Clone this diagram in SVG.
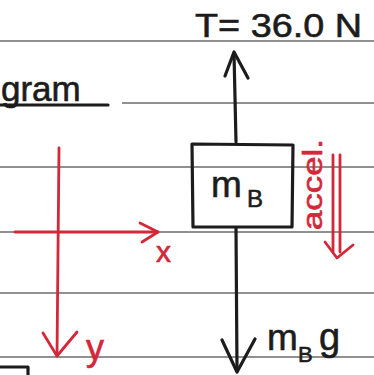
<svg xmlns="http://www.w3.org/2000/svg" width="374" height="375" viewBox="0 0 374 375">
  <style>
    .rule { stroke: #6b6b6b; stroke-width: 1.3; fill: none; }
    .ink { stroke: #1c1c1c; stroke-width: 3.2; fill: none; stroke-linecap: round; stroke-linejoin: round; }
    .red { stroke: #d3283a; stroke-width: 2.8; fill: none; stroke-linecap: round; stroke-linejoin: round; }
    .tb { font-family: "Liberation Sans", Arial, sans-serif; fill: #1c1c1c; stroke: #1c1c1c; stroke-width: 0.6; }
    .tr { font-family: "Liberation Sans", Arial, sans-serif; fill: #d3283a; stroke: #d3283a; stroke-width: 0.6; }
  </style>
  <rect width="374" height="375" fill="#ffffff"/>
  <g id="paper">
    <line class="rule" x1="0" y1="41" x2="374" y2="41"/>
    <line class="rule" x1="122" y1="103" x2="374" y2="103"/>
    <line class="rule" x1="0" y1="167" x2="374" y2="167"/>
    <line class="rule" x1="0" y1="232" x2="374" y2="232"/>
    <line class="rule" x1="0" y1="293" x2="374" y2="293"/>
    <line class="rule" x1="0" y1="357" x2="374" y2="357"/>
  </g>
  <g id="heading">
    <text class="tb" x="1" y="101" font-size="35">gram</text>
    <line class="ink" x1="0" y1="105" x2="108" y2="105"/>
  </g>
  <g id="axes">
    <text class="tr" x="156" y="262" font-size="30">x</text>
    <text class="tr" x="86" y="360" font-size="36">y</text>
  </g>
  <g id="block">
    <path class="ink" d="M192,144 L293,145 L292,227 L193,227 Z"/>
    <text class="tb" x="211" y="197" font-size="37">m</text>
    <text class="tb" x="247" y="207" font-size="24">B</text>
  </g>
  <g id="tension-label">
    <text class="tb" x="195" y="37" font-size="34" textLength="167" lengthAdjust="spacingAndGlyphs">T= 36.0 N</text>
  </g>
  <g id="weight-label">
    <text class="tb" x="267" y="350" font-size="37">m</text>
    <text class="tb" x="298" y="362" font-size="22">B</text>
    <text class="tb" x="319" y="350" font-size="38">g</text>
  </g>
  <g id="accel-label">
    <text class="tr" transform="translate(322,230) rotate(-90)" font-size="27" textLength="91" lengthAdjust="spacingAndGlyphs">accel.</text>
  </g>
  <g id="connectors">
    <line class="ink" x1="236" y1="142" x2="234" y2="53"/>
    <polyline class="ink" points="225,76 234,52 248,78"/>
    <line class="ink" x1="236" y1="228" x2="237" y2="371"/>
    <polyline class="ink" points="222,340 237,372 255,339"/>
    <line class="red" x1="59" y1="148" x2="57" y2="356"/>
    <polyline class="red" points="43,333 57,356 77,332"/>
    <line class="red" x1="15" y1="232" x2="158" y2="232"/>
    <polyline class="red" points="140,223 158,232 142,242"/>
    <line class="red" x1="333" y1="155" x2="333" y2="252"/>
    <line class="red" x1="340" y1="155" x2="340" y2="252"/>
    <polyline class="red" points="325,242 337,258 353,245"/>
    <path class="ink" d="M0,367 L28,367 L28,376"/>
  </g>
</svg>
